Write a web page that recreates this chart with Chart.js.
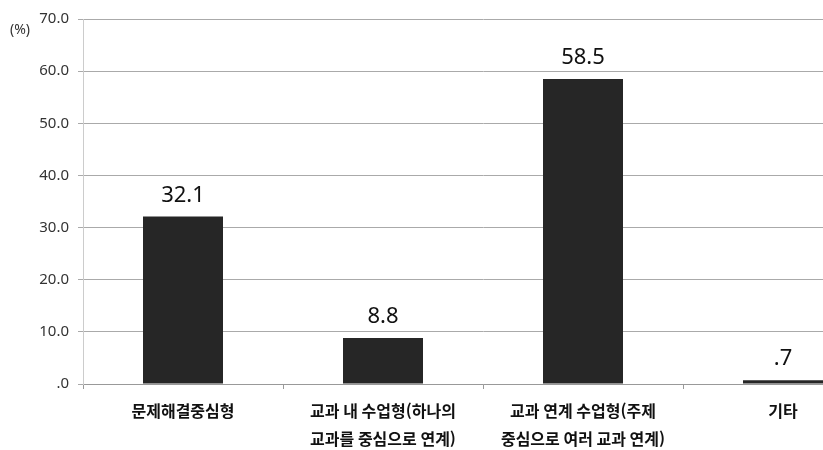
<!DOCTYPE html>
<html lang="ko">
<head>
    <meta charset="UTF-8">
    <title>수업 유형</title>
    <script src="https://cdn.jsdelivr.net/npm/chart.js"></script>
    <style>
        html, body { margin: 0; padding: 0; overflow: hidden; background: #fff; }
    </style>
</head>
<body>
    <canvas id="chart" width="900" height="450"></canvas>
    <script>
        const categories = [
            '문제해결중심형',
            ['교과 내 수업형(하나의', '교과를 중심으로 연계)'],
            ['교과 연계 수업형(주제', '중심으로 여러 교과 연계)'],
            '기타'
        ];
        const values = [32.1, 8.8, 58.5, 0.7];
        const yTicks = [0, 10, 20, 30, 40, 50, 60, 70];

        // ".7", ".0" 같은 원본 표기
        function fmt(v) {
            const s = v.toFixed(1);
            return s.startsWith('0.') ? s.slice(1) : s;
        }

        const valueLabels = {
            id: 'valueLabels',
            afterDatasetsDraw(chart) {
                const ctx = chart.ctx;
                const meta = chart.getDatasetMeta(0);
                ctx.save();
                ctx.font = '22px "Noto Sans", "DejaVu Sans", sans-serif';
                ctx.fillStyle = '#111';
                ctx.textAlign = 'center';
                ctx.textBaseline = 'alphabetic';
                meta.data.forEach((bar, i) => {
                    ctx.fillText(fmt(values[i]), bar.x, bar.y - 15);
                });
                ctx.font = '14px "Noto Sans", sans-serif';
                ctx.fillStyle = '#333';
                ctx.textAlign = 'left';
                ctx.textBaseline = 'middle';
                ctx.fillText('(%)', 10, 30);
                ctx.restore();
            }
        };

        new Chart(document.getElementById('chart').getContext('2d'), {
            type: 'bar',
            data: {
                labels: categories,
                datasets: [{
                    data: values,
                    backgroundColor: '#262626',
                    barPercentage: 0.4,
                    categoryPercentage: 1
                }]
            },
            options: {
                responsive: false,
                animation: false,
                layout: { padding: { top: 19, right: 17, left: 0, bottom: 0 } },
                plugins: {
                    legend: { display: false },
                    tooltip: { enabled: false }
                },
                scales: {
                    x: {
                        offset: true,
                        afterFit: s => { s.height = 66; },
                        grid: {
                            offset: true,
                            drawOnChartArea: false,
                            drawTicks: true,
                            tickLength: 5,
                            color: '#999'
                        },
                        border: { color: '#999', width: 1 },
                        ticks: {
                            color: '#111',
                            padding: 8,
                            maxRotation: 0,
                            autoSkip: false,
                            font: { family: '"Noto Sans CJK KR", sans-serif', size: 16, weight: 'bold', lineHeight: 1.75 }
                        }
                    },
                    y: {
                        min: 0,
                        max: 70,
                        afterFit: s => { s.width = 83; },
                        afterBuildTicks: s => { s.ticks = yTicks.map(v => ({ value: v })); },
                        grid: {
                            color: '#aaa',
                            tickLength: 5
                        },
                        border: { color: '#ccc' },
                        ticks: {
                            color: '#333',
                            padding: 9,
                            font: { family: '"Noto Sans", sans-serif', size: 15 },
                            callback: v => fmt(v)
                        }
                    }
                }
            },
            plugins: [valueLabels]
        });
    </script>
</body>
</html>
